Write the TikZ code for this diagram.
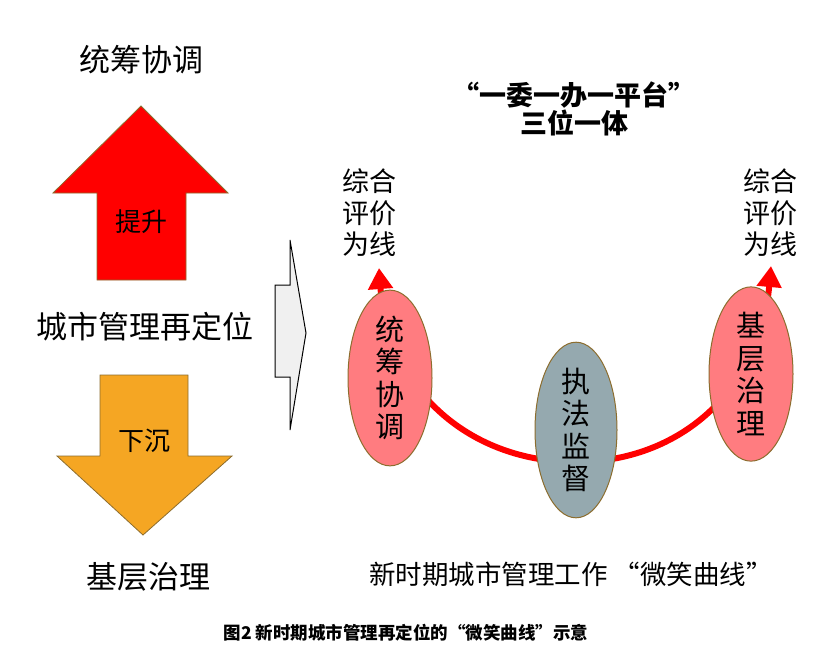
\documentclass[tikz,border=0pt]{standalone}
\usepackage{fontspec}
\setmainfont{Noto Sans CJK SC}
\usetikzlibrary{shapes.geometric,arrows.meta}
\definecolor{arrowred}{HTML}{FF0000}
\definecolor{arroworange}{HTML}{F5A623}
\definecolor{edgebrown}{HTML}{8C6D2E}
\definecolor{pinkfill}{HTML}{FF7C80}
\definecolor{grayfill}{HTML}{95A9AF}
\definecolor{lightgray}{HTML}{F0F0F0}
\definecolor{smilered}{HTML}{FF0000}
\begin{document}
\begin{tikzpicture}[x=1pt,y=-1pt,
  bigtext/.style={font=\fontsize{31}{35}\selectfont, inner sep=0pt},
  arrowtext/.style={font=\fontsize{26}{30}\selectfont, inner sep=0pt},
  sidetext/.style={font=\fontsize{27}{31.5}\selectfont, align=center, inner sep=0pt},
  ovalbox/.style={ellipse, draw=edgebrown, line width=1pt, inner sep=0pt,
     minimum width=84pt, minimum height=150pt, align=center,
     font=\fontsize{29}{32.5}\selectfont},
  smileline/.style={draw=smilered, line width=6pt,
     {Triangle[width=24pt,length=21pt]}-{Triangle[width=24pt,length=21pt]}},
  shapeedge/.style={draw=edgebrown, line width=0.8pt}
]
\useasboundingbox (0,0) rectangle (817,665);

% left column
\node[bigtext] (tongchou) at (141,60) {统筹协调};
\filldraw[shapeedge, fill=arrowred] (141,106) -- (228,193) -- (186,193) -- (186,280)
  -- (97,280) -- (97,193) -- (53,193) -- cycle;
\node[arrowtext] (tisheng) at (141,222) {提升};
\node[bigtext] (dingwei) at (145,327) {城市管理再定位};
\filldraw[shapeedge, fill=arroworange] (100,375) -- (188,375) -- (188,456) -- (232,456)
  -- (143,535) -- (57,456) -- (100,456) -- cycle;
\node[arrowtext] (xiachen) at (144,441) {下沉};
\node[bigtext] (jiceng) at (148,577) {基层治理};

% grey pointer arrow
\filldraw[draw=black, line width=1pt, fill=lightgray] (290,240) -- (306,333) -- (290,430)
  -- (290,377) -- (275,377) -- (275,285) -- (290,285) -- cycle;

% title
\node[font=\fontsize{27}{28}\selectfont\bfseries, align=center, inner sep=0pt] (title)
  at (574,109) {“一委一办一平台”\\三位一体};

% side labels
\node[sidetext] (zhleft) at (369,213) {综合\\评价\\为线};
\node[sidetext] (zhright) at (770,213) {综合\\评价\\为线};

% smile curve
\coordinate (lt) at (379,268);
\coordinate (rt) at (771,266);
\coordinate (bottom) at (576,462);
\draw[smileline] (lt) .. controls (388,390) and (470,462) .. (bottom)
  .. controls (680,462) and (760,390) .. (rt);

% ovals
\node[ovalbox, fill=pinkfill] (tc) at (390,378) {统\\筹\\协\\调};
\node[ovalbox, fill=grayfill, minimum width=82pt] (zf) at (576,430) {执\\法\\监\\督};
\node[ovalbox, fill=pinkfill] (jc) at (751,374) {基\\层\\治\\理};

% bottom label
\node[font=\fontsize{26.5}{30}\selectfont, inner sep=0pt] (smile) at (571,574)
  {新时期城市管理工作 “微笑曲线”};

% caption
\node[font=\fontsize{17.5}{20}\selectfont\bfseries, inner sep=0pt] (caption) at (406,633)
  {图2 新时期城市管理再定位的“微笑曲线”示意};
\end{tikzpicture}
\end{document}
